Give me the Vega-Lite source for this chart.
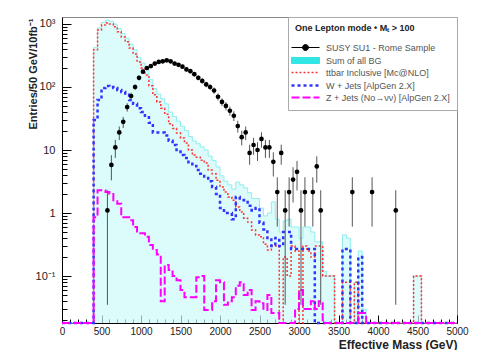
{
  "$schema": "https://vega.github.io/schema/vega-lite/v6.json",
  "width": 395,
  "height": 306,
  "autosize": {"type": "none"},
  "padding": {"left": 62, "top": 17, "right": 30, "bottom": 27},
  "background": "white",
  "config": {"view": {"stroke": "#888", "strokeWidth": 1}, "font": "Liberation Sans"},
  "datasets": {
    "hist": [
      {"E": 0, "bg": 0.001, "tt": 0.001, "w": 0.001, "z": 0.001},
      {"E": 50, "bg": 0.001, "tt": 0.001, "w": 0.001, "z": 0.001},
      {"E": 100, "bg": 0.001, "tt": 0.001, "w": 0.001, "z": 0.001},
      {"E": 150, "bg": 0.001, "tt": 0.001, "w": 0.001, "z": 0.001},
      {"E": 200, "bg": 0.001, "tt": 0.001, "w": 0.001, "z": 0.001},
      {"E": 250, "bg": 0.001, "tt": 0.001, "w": 0.001, "z": 0.001},
      {"E": 300, "bg": 0.001, "tt": 0.001, "w": 0.001, "z": 0.001},
      {"E": 350, "bg": 0.001, "tt": 0.001, "w": 0.001, "z": 0.001},
      {"E": 400, "bg": 421, "tt": 390, "w": 30, "z": 0.86},
      {"E": 450, "bg": 864, "tt": 800, "w": 62, "z": 2.3},
      {"E": 500, "bg": 1058, "tt": 960, "w": 96, "z": 2.3},
      {"E": 550, "bg": 1146, "tt": 1040, "w": 104, "z": 2.15},
      {"E": 600, "bg": 1102, "tt": 1000, "w": 100, "z": 2.0},
      {"E": 650, "bg": 998, "tt": 900, "w": 96, "z": 1.6},
      {"E": 700, "bg": 841, "tt": 750, "w": 90, "z": 1.4},
      {"E": 750, "bg": 704, "tt": 620, "w": 83, "z": 0.86},
      {"E": 800, "bg": 596, "tt": 520, "w": 75, "z": 0.86},
      {"E": 850, "bg": 478, "tt": 415, "w": 62, "z": 0.77},
      {"E": 900, "bg": 390, "tt": 335, "w": 54, "z": 0.6},
      {"E": 950, "bg": 296, "tt": 250, "w": 46, "z": 0.48},
      {"E": 1000, "bg": 240, "tt": 200, "w": 40, "z": 0.48},
      {"E": 1050, "bg": 190, "tt": 155, "w": 35, "z": 0.42},
      {"E": 1100, "bg": 132, "tt": 105, "w": 27, "z": 0.31},
      {"E": 1150, "bg": 94, "tt": 75, "w": 19, "z": 0.26},
      {"E": 1200, "bg": 77, "tt": 58, "w": 19, "z": 0.22},
      {"E": 1250, "bg": 65, "tt": 46, "w": 19, "z": 0.04},
      {"E": 1300, "bg": 54, "tt": 37, "w": 17, "z": 0.15},
      {"E": 1350, "bg": 40, "tt": 26, "w": 14, "z": 0.125},
      {"E": 1400, "bg": 34, "tt": 22, "w": 12, "z": 0.1},
      {"E": 1450, "bg": 28.7, "tt": 18.6, "w": 10, "z": 0.086},
      {"E": 1500, "bg": 23.9, "tt": 15.5, "w": 8.3, "z": 0.06},
      {"E": 1550, "bg": 20.4, "tt": 12.9, "w": 7.5, "z": 0.046},
      {"E": 1600, "bg": 16.4, "tt": 10, "w": 6.4, "z": 0.046},
      {"E": 1650, "bg": 13.9, "tt": 8.3, "w": 5.6, "z": 0.046},
      {"E": 1700, "bg": 12.6, "tt": 7.7, "w": 4.8, "z": 0.096},
      {"E": 1750, "bg": 11.2, "tt": 6.9, "w": 4.2, "z": 0.1},
      {"E": 1800, "bg": 10.0, "tt": 6.2, "w": 3.8, "z": 0.029},
      {"E": 1850, "bg": 8.0, "tt": 4.8, "w": 3.2, "z": 0.029},
      {"E": 1900, "bg": 6.8, "tt": 4.2, "w": 2.6, "z": 0.04},
      {"E": 1950, "bg": 5.4, "tt": 3.3, "w": 2.0, "z": 0.086},
      {"E": 2000, "bg": 3.9, "tt": 2.6, "w": 1.2, "z": 0.08},
      {"E": 2050, "bg": 3.2, "tt": 2.15, "w": 1.0, "z": 0.035},
      {"E": 2100, "bg": 2.8, "tt": 1.8, "w": 1.0, "z": 0.04},
      {"E": 2150, "bg": 2.4, "tt": 1.6, "w": 0.8, "z": 0.046},
      {"E": 2200, "bg": 3.1, "tt": 1.25, "w": 1.8, "z": 0.07},
      {"E": 2250, "bg": 2.8, "tt": 1.04, "w": 1.7, "z": 0.08},
      {"E": 2300, "bg": 2.5, "tt": 0.83, "w": 1.6, "z": 0.05},
      {"E": 2350, "bg": 2.1, "tt": 0.72, "w": 1.3, "z": 0.06},
      {"E": 2400, "bg": 1.7, "tt": 0.54, "w": 1.1, "z": 0.029},
      {"E": 2450, "bg": 1.7, "tt": 0.45, "w": 1.2, "z": 0.04},
      {"E": 2500, "bg": 1.2, "tt": 0.42, "w": 0.7, "z": 0.037},
      {"E": 2550, "bg": 0.9, "tt": 0.32, "w": 0.55, "z": 0.029},
      {"E": 2600, "bg": 1.0, "tt": 0.26, "w": 0.4, "z": 0.05},
      {"E": 2650, "bg": 1.5, "tt": 0.3, "w": 0.3, "z": 0.026},
      {"E": 2700, "bg": 0.8, "tt": 0.3, "w": 0.4, "z": 0.026},
      {"E": 2750, "bg": 0.5, "tt": 0.001, "w": 0.3, "z": 0.001},
      {"E": 2800, "bg": 0.75, "tt": 0.2, "w": 0.5, "z": 0.001},
      {"E": 2850, "bg": 0.8, "tt": 0.1, "w": 0.5, "z": 0.001},
      {"E": 2900, "bg": 0.6, "tt": 0.3, "w": 0.27, "z": 0.001},
      {"E": 2950, "bg": 0.6, "tt": 0.25, "w": 0.27, "z": 0.03},
      {"E": 3000, "bg": 0.4, "tt": 0.001, "w": 0.27, "z": 0.06},
      {"E": 3050, "bg": 0.6, "tt": 0.3, "w": 0.27, "z": 0.03},
      {"E": 3100, "bg": 0.6, "tt": 0.25, "w": 0.27, "z": 0.03},
      {"E": 3150, "bg": 0.5, "tt": 0.2, "w": 0.27, "z": 0.04},
      {"E": 3200, "bg": 0.35, "tt": 0.3, "w": 0.001, "z": 0.03},
      {"E": 3250, "bg": 0.35, "tt": 0.3, "w": 0.001, "z": 0.04},
      {"E": 3300, "bg": 0.12, "tt": 0.1, "w": 0.001, "z": 0.001},
      {"E": 3350, "bg": 0.1, "tt": 0.1, "w": 0.001, "z": 0.001},
      {"E": 3400, "bg": 0.1, "tt": 0.1, "w": 0.001, "z": 0.001},
      {"E": 3450, "bg": 0.001, "tt": 0.001, "w": 0.001, "z": 0.001},
      {"E": 3500, "bg": 0.001, "tt": 0.001, "w": 0.001, "z": 0.001},
      {"E": 3550, "bg": 0.45, "tt": 0.08, "w": 0.27, "z": 0.001},
      {"E": 3600, "bg": 0.4, "tt": 0.08, "w": 0.27, "z": 0.001},
      {"E": 3650, "bg": 0.001, "tt": 0.001, "w": 0.001, "z": 0.001},
      {"E": 3700, "bg": 0.08, "tt": 0.08, "w": 0.001, "z": 0.001},
      {"E": 3750, "bg": 0.25, "tt": 0.001, "w": 0.2, "z": 0.026},
      {"E": 3800, "bg": 0.03, "tt": 0.001, "w": 0.001, "z": 0.026},
      {"E": 3850, "bg": 0.001, "tt": 0.001, "w": 0.001, "z": 0.001},
      {"E": 3900, "bg": 0.001, "tt": 0.001, "w": 0.001, "z": 0.001},
      {"E": 3950, "bg": 0.001, "tt": 0.001, "w": 0.001, "z": 0.001},
      {"E": 4000, "bg": 0.001, "tt": 0.001, "w": 0.001, "z": 0.001},
      {"E": 4050, "bg": 0.001, "tt": 0.001, "w": 0.001, "z": 0.001},
      {"E": 4100, "bg": 0.001, "tt": 0.001, "w": 0.001, "z": 0.001},
      {"E": 4150, "bg": 0.001, "tt": 0.001, "w": 0.001, "z": 0.001},
      {"E": 4200, "bg": 0.001, "tt": 0.001, "w": 0.001, "z": 0.001},
      {"E": 4250, "bg": 0.001, "tt": 0.001, "w": 0.001, "z": 0.001},
      {"E": 4300, "bg": 0.001, "tt": 0.001, "w": 0.001, "z": 0.001},
      {"E": 4350, "bg": 0.001, "tt": 0.001, "w": 0.001, "z": 0.001},
      {"E": 4400, "bg": 0.001, "tt": 0.001, "w": 0.001, "z": 0.001},
      {"E": 4450, "bg": 0.1, "tt": 0.1, "w": 0.001, "z": 0.001},
      {"E": 4500, "bg": 0.1, "tt": 0.1, "w": 0.001, "z": 0.001},
      {"E": 4550, "bg": 0.001, "tt": 0.001, "w": 0.001, "z": 0.001},
      {"E": 4600, "bg": 0.001, "tt": 0.001, "w": 0.001, "z": 0.001},
      {"E": 4650, "bg": 0.001, "tt": 0.001, "w": 0.001, "z": 0.001},
      {"E": 4700, "bg": 0.001, "tt": 0.001, "w": 0.001, "z": 0.001},
      {"E": 4750, "bg": 0.001, "tt": 0.001, "w": 0.001, "z": 0.001},
      {"E": 4800, "bg": 0.001, "tt": 0.001, "w": 0.001, "z": 0.001},
      {"E": 4850, "bg": 0.001, "tt": 0.001, "w": 0.001, "z": 0.001},
      {"E": 4900, "bg": 0.001, "tt": 0.001, "w": 0.001, "z": 0.001},
      {"E": 4950, "bg": 0.001, "tt": 0.001, "w": 0.001, "z": 0.001},
      {"E": 5000, "bg": 0.001, "tt": 0.001, "w": 0.001, "z": 0.001}
    ],
    "susy": [
      {"E": 575, "v": 1.1, "lo": 0.035, "hi": 2.3},
      {"E": 625, "v": 5.8, "lo": 3.3, "hi": 8.3},
      {"E": 675, "v": 11, "lo": 7.5, "hi": 14.5},
      {"E": 725, "v": 19, "lo": 14.4, "hi": 23.6},
      {"E": 775, "v": 28, "lo": 22.4, "hi": 33.6},
      {"E": 825, "v": 48, "lo": 40.7, "hi": 55.3},
      {"E": 875, "v": 72, "lo": 63, "hi": 81},
      {"E": 925, "v": 100, "lo": 89.5, "hi": 110.5},
      {"E": 975, "v": 140, "lo": 127.6, "hi": 152.4},
      {"E": 1025, "v": 175, "lo": 161, "hi": 189},
      {"E": 1075, "v": 200, "lo": 185, "hi": 215},
      {"E": 1125, "v": 215, "lo": 200, "hi": 230},
      {"E": 1175, "v": 235, "lo": 219, "hi": 251},
      {"E": 1225, "v": 250, "lo": 233, "hi": 267},
      {"E": 1275, "v": 255, "lo": 238, "hi": 272},
      {"E": 1325, "v": 265, "lo": 248, "hi": 282},
      {"E": 1375, "v": 255, "lo": 238, "hi": 272},
      {"E": 1425, "v": 235, "lo": 219, "hi": 251},
      {"E": 1475, "v": 225, "lo": 209, "hi": 241},
      {"E": 1525, "v": 210, "lo": 195, "hi": 225},
      {"E": 1575, "v": 190, "lo": 175, "hi": 205},
      {"E": 1625, "v": 178, "lo": 164, "hi": 192},
      {"E": 1675, "v": 160, "lo": 147, "hi": 173},
      {"E": 1725, "v": 140, "lo": 128, "hi": 152},
      {"E": 1775, "v": 125, "lo": 113, "hi": 137},
      {"E": 1825, "v": 110, "lo": 99, "hi": 121},
      {"E": 1875, "v": 100, "lo": 89.5, "hi": 110.5},
      {"E": 1925, "v": 88, "lo": 78, "hi": 98},
      {"E": 1975, "v": 70, "lo": 61, "hi": 79},
      {"E": 2025, "v": 58, "lo": 50, "hi": 66},
      {"E": 2075, "v": 50, "lo": 42.6, "hi": 57.4},
      {"E": 2125, "v": 42, "lo": 35.2, "hi": 48.8},
      {"E": 2175, "v": 35, "lo": 28.8, "hi": 41.2},
      {"E": 2225, "v": 24, "lo": 18.9, "hi": 29.1},
      {"E": 2275, "v": 16, "lo": 11.8, "hi": 20.2},
      {"E": 2325, "v": 19, "lo": 14.4, "hi": 23.6},
      {"E": 2375, "v": 9, "lo": 5.85, "hi": 12.15},
      {"E": 2425, "v": 12, "lo": 8.4, "hi": 15.6},
      {"E": 2475, "v": 10, "lo": 6.7, "hi": 13.3},
      {"E": 2525, "v": 15, "lo": 10.9, "hi": 19.1},
      {"E": 2575, "v": 11, "lo": 7.5, "hi": 14.5},
      {"E": 2625, "v": 11, "lo": 7.5, "hi": 14.5},
      {"E": 2675, "v": 6.5, "lo": 3.8, "hi": 9.2},
      {"E": 2725, "v": 2.15, "lo": 0.61, "hi": 3.69},
      {"E": 2775, "v": 9, "lo": 5.85, "hi": 12.15},
      {"E": 2825, "v": 1.1, "lo": 0.035, "hi": 2.3},
      {"E": 2875, "v": 2.15, "lo": 0.61, "hi": 3.69},
      {"E": 2925, "v": 3.4, "lo": 1.47, "hi": 5.33},
      {"E": 2975, "v": 4.5, "lo": 2.28, "hi": 6.72},
      {"E": 3025, "v": 1.1, "lo": 0.035, "hi": 2.3},
      {"E": 3075, "v": 2.15, "lo": 0.61, "hi": 3.69},
      {"E": 3175, "v": 2.15, "lo": 0.61, "hi": 3.69},
      {"E": 3225, "v": 5.5, "lo": 3.04, "hi": 7.96},
      {"E": 3275, "v": 1.1, "lo": 0.035, "hi": 2.3},
      {"E": 3675, "v": 2.15, "lo": 0.61, "hi": 3.69},
      {"E": 3925, "v": 2.15, "lo": 0.61, "hi": 3.69},
      {"E": 4225, "v": 1.1, "lo": 0.035, "hi": 2.3}
    ]
  },
  "encoding": {
    "x": {
      "field": "E", "type": "quantitative",
      "scale": {"domain": [0, 5000], "nice": false, "zero": false},
      "axis": {
        "values": [0,100,200,300,400,500,600,700,800,900,1000,1100,1200,1300,1400,1500,1600,1700,1800,1900,2000,2100,2200,2300,2400,2500,2600,2700,2800,2900,3000,3100,3200,3300,3400,3500,3600,3700,3800,3900,4000,4100,4200,4300,4400,4500,4600,4700,4800,4900,5000],
        "labelExpr": "datum.value % 500 == 0 ? '' + datum.value : ''",
        "labelOverlap": false,
        "labelFlush": false,
        "labelBound": false,
        "labelFontSize": 10,
        "labelColor": "#222",
        "labelPadding": 11,
        "grid": false,
        "domainColor": "#000",
        "tickColor": "#000",
        "tickSize": {"condition": {"test": "datum.value % 500 == 0", "value": -8}, "value": -4},
        "title": "Effective Mass (GeV)",
        "titleFontSize": 12,
        "titleFontWeight": "bold",
        "titleColor": "#222",
        "titleX": 395,
        "titleY": 21,
        "titleAlign": "right",
        "titleBaseline": "middle"
      }
    }
  },
  "layer": [
    {
      "data": {"name": "hist"},
      "mark": {"type": "area", "interpolate": "step-after", "fill": "#cdf9f9", "line": {"stroke": "#8eeeee", "strokeWidth": 1}},
      "encoding": {
        "y": {
          "field": "bg", "type": "quantitative",
          "scale": {"type": "log", "domain": [0.018, 1290], "clamp": true, "nice": false},
          "axis": {
            "values": [0.02,0.03,0.04,0.05,0.06,0.07,0.08,0.09,0.1,0.2,0.3,0.4,0.5,0.6,0.7,0.8,0.9,1,2,3,4,5,6,7,8,9,10,20,30,40,50,60,70,80,90,100,200,300,400,500,600,700,800,900,1000],
            "labelExpr": "datum.value == 1000 ? '10³' : datum.value == 100 ? '10²' : datum.value == 10 ? '10' : datum.value == 1 ? '1' : datum.value == 0.1 ? '10⁻¹' : ''",
            "labelOverlap": false,
            "labelFlush": false,
            "labelFontSize": 11,
            "labelColor": "#222",
            "labelPadding": 16,
            "grid": false,
            "domainColor": "#000",
            "tickColor": "#000",
            "tickSize": {"condition": {"test": "datum.value == 0.1 || datum.value == 1 || datum.value == 10 || datum.value == 100 || datum.value == 1000", "value": -9}, "value": -5},
            "title": "Entries/50 GeV/10fb⁻¹",
            "titleFontSize": 11,
            "titleFontWeight": "bold",
            "titleColor": "#222",
            "titleAngle": -90,
            "titleX": -29,
            "titleY": 1,
            "titleAlign": "right",
            "titleBaseline": "middle"
          }
        }
      }
    },
    {
      "data": {"name": "hist"},
      "mark": {"type": "line", "interpolate": "step-after", "stroke": "#ff3333", "strokeWidth": 1.5, "strokeDash": [2, 2]},
      "encoding": {
        "y": {"field": "tt", "type": "quantitative", "scale": {"type": "log", "domain": [0.018, 1290], "clamp": true, "nice": false}}
      }
    },
    {
      "data": {"name": "hist"},
      "mark": {"type": "line", "interpolate": "step-after", "stroke": "#3333ff", "strokeWidth": 2.5, "strokeDash": [3, 3]},
      "encoding": {
        "y": {"field": "w", "type": "quantitative", "scale": {"type": "log", "domain": [0.018, 1290], "clamp": true, "nice": false}}
      }
    },
    {
      "data": {"name": "hist"},
      "mark": {"type": "line", "interpolate": "step-after", "stroke": "#ff00ff", "strokeWidth": 2, "strokeDash": [8, 3]},
      "encoding": {
        "y": {"field": "z", "type": "quantitative", "scale": {"type": "log", "domain": [0.018, 1290], "clamp": true, "nice": false}}
      }
    },
    {
      "data": {"name": "susy"},
      "mark": {"type": "rule", "stroke": "#555", "strokeWidth": 1},
      "encoding": {
        "y": {"field": "lo", "type": "quantitative", "scale": {"type": "log", "domain": [0.018, 1290], "clamp": true, "nice": false}},
        "y2": {"field": "hi"}
      }
    },
    {
      "data": {"name": "susy"},
      "mark": {"type": "circle", "size": 22, "opacity": 1},
      "encoding": {
        "y": {"field": "v", "type": "quantitative", "scale": {"type": "log", "domain": [0.018, 1290], "clamp": true, "nice": false}},
        "color": {
          "datum": "susy",
          "scale": {"domain": ["susy", "bg", "tt", "w", "z"], "range": ["#000000", "#33e6e6", "#ff3333", "#3333ff", "#ff00ff"]},
          "legend": {
            "orient": "top-right",
            "offset": 0,
            "title": "One Lepton mode • Mₜ > 100",
            "titleFontSize": 9,
            "titleFontWeight": "bold",
            "titleColor": "#222",
            "titlePadding": 10,
            "labelExpr": "datum.value == 'susy' ? 'SUSY SU1 - Rome Sample' : datum.value == 'bg' ? 'Sum of all BG' : datum.value == 'tt' ? 'ttbar Inclusive [Mc@NLO]' : datum.value == 'w' ? 'W + Jets [AlpGen 2.X]' : 'Z + Jets (No→νν) [AlpGen 2.X]'",
            "labelFontSize": 9,
            "labelColor": "#555",
            "labelLimit": 220,
            "symbolSize": 400,
            "symbolOpacity": 1,
            "symbolOffset": 6,
            "labelOffset": 16,
            "rowPadding": 2,
            "padding": 7,
            "strokeColor": "#aaa",
            "fillColor": "white",
            "encode": {
              "symbols": {
                "update": {
                  "shape": {"signal": "datum.value == 'susy' ? 'M-1.4,0H1.4M-0.3,0A0.3,0.3,0,1,1,0.3,0A0.3,0.3,0,1,1,-0.3,0Z' : datum.value == 'bg' ? 'M-1.4,-0.3H1.4V0.3H-1.4Z' : 'M-1.4,0H1.4'"},
                  "fill": {"signal": "datum.value == 'susy' ? '#000000' : datum.value == 'bg' ? '#cdf9f9' : 'transparent'"},
                  "stroke": {"signal": "datum.value == 'susy' ? '#000000' : datum.value == 'bg' ? '#33e6e6' : datum.value == 'tt' ? '#ff3333' : datum.value == 'w' ? '#3333ff' : '#ff00ff'"},
                  "strokeDash": {"signal": "datum.value == 'tt' ? [2,2] : datum.value == 'w' ? [3,3] : datum.value == 'z' ? [8,3] : []"},
                  "strokeWidth": {"signal": "datum.value == 'w' ? 2.5 : datum.value == 'z' ? 2 : datum.value == 'tt' ? 1.5 : 1"},
                  "opacity": {"value": 1}
                }
              }
            }
          }
        }
      }
    }
  ]
}
